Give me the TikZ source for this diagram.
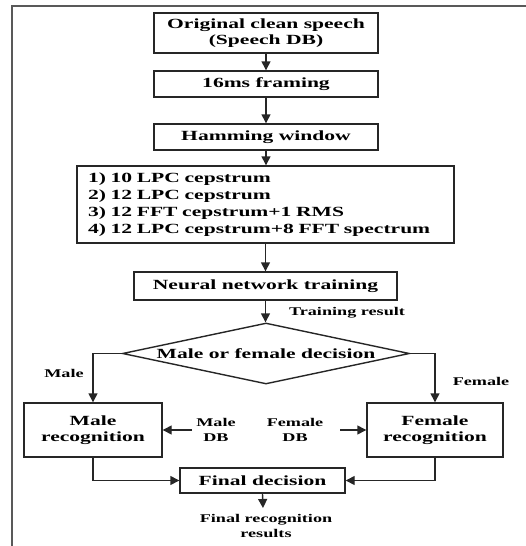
\documentclass[tikz,border=0pt]{standalone}
\usepackage{fontspec}
\setmainfont{Liberation Serif}[FakeStretch=1.54]
\usetikzlibrary{shapes.geometric,arrows.meta}
\tikzset{
  box/.style={draw=black!85, line width=1.4pt, fill=white, inner sep=2pt, align=center,
    font=\bfseries\fontsize{14}{16}\selectfont},
  lbl/.style={font=\bfseries\fontsize{11.8}{14.5}\selectfont, align=center, inner sep=0pt},
  arr/.style={draw=black!85, line width=1.4pt, -{Triangle[length=9pt,width=9pt]}},
  frame/.style={draw=black!65, line width=2pt}
}
\begin{document}
\begin{tikzpicture}[x=1pt,y=-1pt]
\useasboundingbox (0,0) rectangle (526,546);
\draw[frame] (12,546) -- (12,6) -- (526,6);

\node[box, minimum width=224pt, minimum height=40pt] (b1) at (266,33) {Original clean speech\\(Speech DB)};
\node[box, minimum width=224pt, minimum height=26pt] (b2) at (266,84) {16ms framing};
\node[box, minimum width=224pt, minimum height=26pt] (b3) at (266,137) {Hamming window};
\node[box, text width=355pt, inner xsep=11pt, minimum height=77pt, align=left,
      font=\bfseries\fontsize{14}{17}\selectfont] (b4) at (265.5,204.5)
      {1) 10 LPC cepstrum\\2) 12 LPC cepstrum\\3) 12 FFT cepstrum+1 RMS\\4) 12 LPC cepstrum+8 FFT spectrum};
\node[box, minimum width=263pt, minimum height=28pt] (b5) at (265.5,286) {Neural network training};
\node[box, diamond, aspect=4.7, inner sep=0pt, minimum width=287pt, minimum height=61pt] (dec) at (266,353.5) {Male or female decision};
\node[box, minimum width=138pt, minimum height=54pt] (male) at (93,430) {Male\\recognition};
\node[box, minimum width=136pt, minimum height=54pt] (female) at (435,430) {Female\\recognition};
\node[box, minimum width=165pt, minimum height=25pt] (final) at (262.5,480.5) {Final decision};

\node[lbl] (tr) at (347,313) {Training result};
\node[lbl] (ml) at (64,373) {Male};
\node[lbl] (fl) at (481,381) {Female};
\node[lbl] (mdb) at (216,430) {Male\\DB};
\node[lbl] (fdb) at (295,430) {Female\\DB};
\node[lbl] (res) at (266,526) {Final recognition\\results};
\coordinate (resTop) at (263,508);

\draw[arr] (b1) -- (b2);
\draw[arr] (b2) -- (b3);
\draw[arr] (b3.south) -- (b3.south |- b4.north);
\draw[arr] (b4.south) -- (b4.south |- b5.north);
\draw[arr] (b5.south) -- (b5.south |- dec.north);
\draw[arr] (dec.west) -| (male.north);
\draw[arr] (dec.east) -| (female.north);
\draw[arr] ([xshift=-4pt]mdb.west) -- (male.east);
\draw[arr] ([xshift=17pt]fdb.east) -- (female.west);
\draw[arr] (male.south) |- (final.west);
\draw[arr] (female.south) |- (final.east);
\draw[arr] (final.south) -- (resTop);
\end{tikzpicture}
\end{document}
